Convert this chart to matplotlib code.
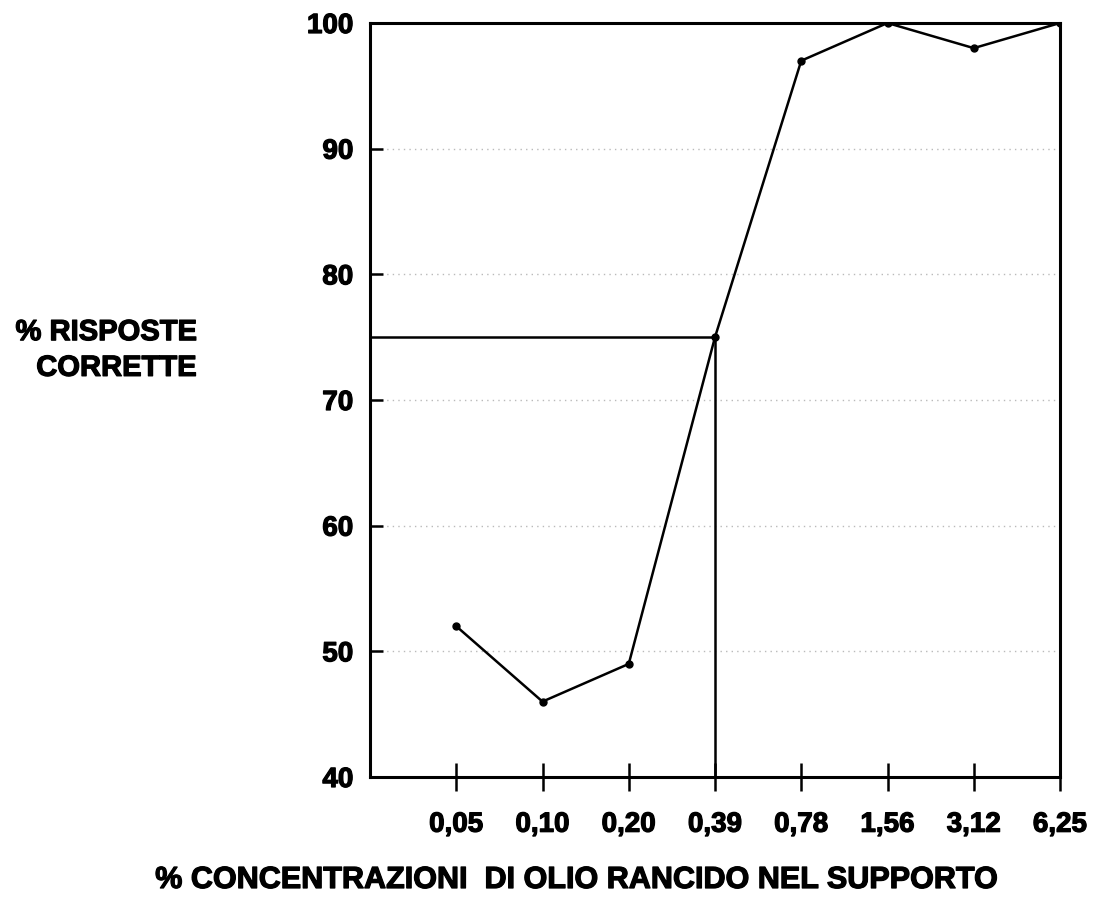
import matplotlib
matplotlib.use("Agg")
import matplotlib.pyplot as plt
import matplotlib.patheffects as pe

categories = ["0,05", "0,10", "0,20", "0,39", "0,78", "1,56", "3,12", "6,25"]
values = [52, 46, 49, 75, 97, 100, 98, 100]
yticks = [40, 50, 60, 70, 80, 90, 100]
threshold = 75
threshold_idx = 3

plt.rcParams['font.family'] = ['Liberation Sans', 'DejaVu Sans']
plt.rcParams['font.weight'] = 'bold'

bold_fx = [pe.withStroke(linewidth=0.9, foreground='black')]

fig = plt.figure(figsize=(10.96, 9.18), dpi=100)
ax = fig.add_axes([370/1096, 141/918, 690/1096, 754/918])

x = list(range(1, len(categories) + 1))
ax.plot(x, values, color='black', lw=1.8, marker='o', ms=5, zorder=3)

ax.set_xlim(0, len(categories))
ax.set_ylim(40, 100)

# reference lines for 75% threshold
tx = x[threshold_idx]
ax.plot([0, tx], [threshold, threshold], color='black', lw=1.8, zorder=3)
ax.plot([tx, tx], [40, threshold], color='black', lw=1.8, zorder=3)

# faint dotted grid
for yv in yticks[1:-1]:
    ax.axhline(yv, color='0.55', lw=1.0, ls=(0, (1, 3)), alpha=0.6, zorder=1)

for s in ax.spines.values():
    s.set_linewidth(2.2)

ax.set_xticks(x)
ax.set_xticklabels(categories, fontsize=20, fontweight='bold', path_effects=bold_fx)
ax.set_yticks(yticks)
ax.set_yticklabels([str(v) for v in yticks], fontsize=20, fontweight='bold', path_effects=bold_fx)
ax.tick_params(axis='x', direction='inout', length=20, width=1.8, pad=15)
ax.tick_params(axis='y', direction='in', length=9, width=1.8, pad=12)

fig.text(197/1096, 1 - 350/918, "% RISPOSTE\nCORRETTE", ha='right', va='center',
         fontsize=21, fontweight='bold', linespacing=1.35, path_effects=bold_fx)
fig.text(575/1096, 1 - 880/918, "% CONCENTRAZIONI  DI OLIO RANCIDO NEL SUPPORTO",
         ha='center', va='center', fontsize=22, fontweight='bold', path_effects=bold_fx)

fig.savefig("out.png", dpi=100)
